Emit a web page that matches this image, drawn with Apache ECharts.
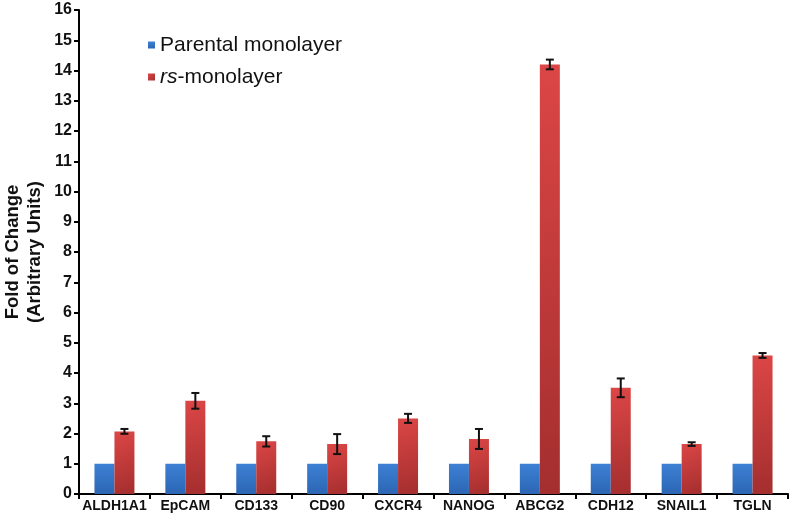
<!DOCTYPE html>
<html><head><meta charset="utf-8">
<script src="https://cdn.jsdelivr.net/npm/echarts@6/dist/echarts.min.js"></script>
<style>html,body{margin:0;padding:0;background:#fff}#c{width:790px;height:521px}</style>
</head><body><div id="c"></div>
<script>
const categories = ['ALDH1A1','EpCAM','CD133','CD90','CXCR4','NANOG','ABCG2','CDH12','SNAIL1','TGLN'];
const parental = [1,1,1,1,1,1,1,1,1,1];
const rsMono = [2.07,3.08,1.74,1.65,2.50,1.82,14.2,3.51,1.65,4.58];
const rsErr = [0.08,0.26,0.17,0.33,0.15,0.33,0.16,0.31,0.06,0.08];
const yTicks = {min:0,max:16,interval:1};

const FONT = 'Liberation Sans, Arial, sans-serif';
const chart = echarts.init(document.getElementById('c'));
const errData = rsMono.map((v,i)=>[i, v-rsErr[i], v+rsErr[i]]);
chart.setOption({
  animation:false,
  grid:{left:79,right:2,top:10,bottom:27,containLabel:false,outerBoundsMode:'none'},
  legend:{
    orient:'vertical', left:143, top:29, itemWidth:7, itemHeight:7, itemGap:10,
    icon:'rect',
    itemStyle:{borderWidth:0},
    data:['Parental monolayer','rs-monolayer'],
    formatter:function(n){ return n==='rs-monolayer' ? '{i|rs}{n|-monolayer}' : '{n|'+n+'}'; },
    textStyle:{fontFamily:FONT,fontSize:21,color:'#111',lineHeight:22,
      rich:{i:{fontStyle:'italic',fontFamily:FONT,fontSize:21,color:'#111',lineHeight:22},n:{fontFamily:FONT,fontSize:21,color:'#111',lineHeight:22}}}
  },
  xAxis:{
    type:'category', data:categories,
    axisLine:{lineStyle:{color:'#000',width:2}},
    axisTick:{show:true,alignWithLabel:false,length:5,lineStyle:{color:'#000',width:2}},
    axisLabel:{fontFamily:FONT,fontWeight:'bold',fontSize:14,color:'#111',margin:5,interval:0},
    splitLine:{show:false}
  },
  yAxis:{
    type:'value', min:yTicks.min, max:yTicks.max, interval:yTicks.interval,
    name:'Fold of Change\n(Arbitrary Units)', nameLocation:'middle', nameGap:33, nameRotate:90,
    nameMoveOverlap:false,
    nameTextStyle:{fontFamily:FONT,fontWeight:'bold',fontSize:18.5,color:'#111',lineHeight:22},
    axisLine:{show:true,lineStyle:{color:'#000',width:2}},
    axisTick:{show:true,length:5,lineStyle:{color:'#000',width:2}},
    axisLabel:{fontFamily:FONT,fontWeight:'bold',fontSize:16,color:'#111',margin:7},
    splitLine:{show:false}
  },
  series:[
    {name:'Parental monolayer',type:'bar',data:parental,barWidth:'28.2%',barGap:'0%',
      itemStyle:{color:new echarts.graphic.LinearGradient(0,0,0,1,[{offset:0,color:'#3d80d4'},{offset:1,color:'#2c66b4'}])}},
    {name:'rs-monolayer',type:'bar',data:rsMono,barWidth:'28.2%',barGap:'0%',
      itemStyle:{color:new echarts.graphic.LinearGradient(0,0,1,1,[{offset:0,color:'#dc4646'},{offset:1,color:'#a42e2e'}])}},
    {name:'err',type:'custom',data:errData,z:10,
      renderItem:function(params,api){
        const i=api.value(0);
        const band=api.size([1,0])[0];
        const off=band*0.141;
        const lo=api.coord([i,api.value(1)]);
        const hi=api.coord([i,api.value(2)]);
        const x=lo[0]+off, w=4;
        const st={stroke:'#111',lineWidth:2};
        return {type:'group',children:[
          {type:'line',shape:{x1:x,y1:lo[1],x2:x,y2:hi[1]},style:st},
          {type:'line',shape:{x1:x-w,y1:lo[1],x2:x+w,y2:lo[1]},style:st},
          {type:'line',shape:{x1:x-w,y1:hi[1],x2:x+w,y2:hi[1]},style:st}
        ]};
      }}
  ]
});
</script></body></html>
